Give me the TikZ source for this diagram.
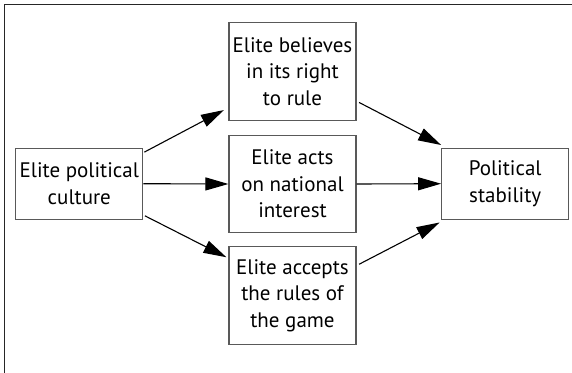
\documentclass[tikz,border=0pt]{standalone}
\usepackage{fontspec}
\setmainfont{PT Sans}
\usetikzlibrary{arrows.meta,calc}
\tikzset{
  box/.style={draw=black!65, line width=1.2pt, minimum width=127pt, inner sep=0pt, align=center, font=\fontsize{21}{26.5}\selectfont},
  conn/.style={line width=1.1pt, -{Triangle[length=23pt,width=13pt]}}
}
\begin{document}
\begin{tikzpicture}[x=1pt,y=-1pt]
\useasboundingbox (0,0) rectangle (572,372);
\fill[white] (0,0) rectangle (572,372);
\draw[black!85, line width=1.3pt] (4.5,380) -- (4.5,4.5) -- (580,4.5);
\node[box, minimum height=71pt] (L) at (79.3,183.7) {Elite political\\culture};
\node[box, minimum height=97.5pt] (T) at (292.5,71.4) {Elite believes\\in its right\\to rule};
\node[box, minimum height=97.5pt] (M) at (292.5,184) {Elite acts\\on national\\interest};
\node[box, minimum height=97.5pt] (B) at (292.5,295.6) {Elite accepts\\the rules of\\the game};
\node[box, minimum height=71pt] (R) at (505.2,183.7) {Political\\stability};
\coordinate (a1) at ($(L.north east)+(1,4.5)$);
\coordinate (a2) at ($(T.south west)+(-4.5,-10.7)$);
\coordinate (c1) at ($(L.south east)+(1.5,-4)$);
\coordinate (c2) at ($(B.north west)+(-2,11)$);
\coordinate (d1) at ($(T.south east)+(2.5,-18.3)$);
\coordinate (d2) at ($(R.north west)+(0,-2.6)$);
\coordinate (f1) at ($(B.north east)+(2.5,18)$);
\coordinate (f2) at ($(R.south west)+(-1.5,2.7)$);
\draw[conn] (a1) -- (a2);
\draw[conn] (L.east) -- (M.west);
\draw[conn] (c1) -- (c2);
\draw[conn] (d1) -- (d2);
\draw[conn] (M.east) -- (R.west);
\draw[conn] (f1) -- (f2);
\end{tikzpicture}
\end{document}
